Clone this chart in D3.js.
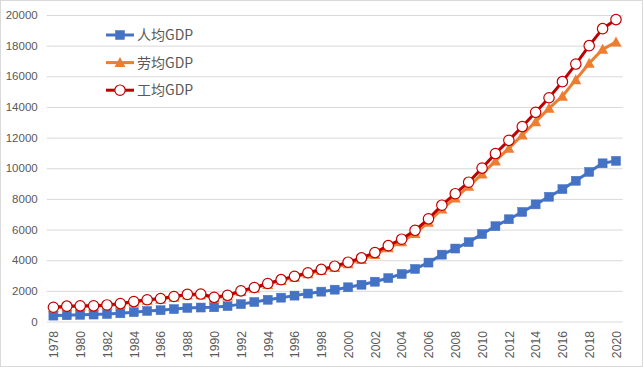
<!DOCTYPE html>
<html>
<head>
<meta charset="utf-8">
<script src="https://cdn.jsdelivr.net/npm/d3@7"></script>
<style>
  body { margin: 0; background: #fff; }
  svg text { font-family: "Liberation Sans", Arial, sans-serif; fill: #595959; }
  .leg text { font-family: "Noto Sans CJK SC", "Liberation Sans", sans-serif; }
</style>
</head>
<body>
<div id="chart"></div>
<script>
// années (axe des catégories)
const annees = d3.range(1978, 2021);

// séries
const renjun = [385, 408, 435, 454, 487, 535, 611, 688, 738, 810, 887, 911, 929, 1004, 1133,
  1272, 1418, 1555, 1689, 1823, 1947, 2077, 2232, 2399, 2596, 2834, 3100, 3431, 3844, 4362,
  4761, 5179, 5704, 6220, 6671, 7148, 7643, 8137, 8637, 9182, 9760, 10322, 10480];
const laojun = [900, 960, 990, 990, 1050, 1140, 1270, 1390, 1460, 1590, 1730, 1750, 1540, 1670,
  1950, 2170, 2420, 2670, 2880, 3110, 3320, 3520, 3770, 4040, 4380, 4810, 5200, 5740, 6480,
  7340, 8060, 8820, 9620, 10480, 11300, 12170, 13040, 13910, 14700, 15780, 16850, 17760, 18240];
const gongjun = [930, 1000, 1020, 1020, 1080, 1170, 1300, 1420, 1500, 1630, 1770, 1790, 1580,
  1710, 2000, 2220, 2480, 2730, 2950, 3180, 3400, 3610, 3870, 4150, 4500, 4950, 5370, 5950,
  6700, 7590, 8340, 9090, 10010, 10960, 11820, 12720, 13650, 14600, 15650, 16800, 18000,
  19110, 19700];

const nomsSeries = ["人均GDP", "劳均GDP", "工均GDP"];
const ticksY = d3.range(0, 20001, 2000);
const ticksX = annees.filter(a => a % 2 === 0);

const largeur = 643, hauteur = 367;
const gauche = 46.7, droite = 622.7, haut = 15, bas = 321.5;

const svg = d3.select("#chart").append("svg")
  .attr("width", largeur).attr("height", hauteur);

// cadre du graphique
svg.append("rect")
  .attr("x", 0.5).attr("y", 0.5)
  .attr("width", largeur - 1).attr("height", hauteur - 1)
  .attr("fill", "#fff").attr("stroke", "#d9d9d9");

const x = d3.scalePoint().domain(annees).range([gauche, droite]).padding(0.5);
const y = d3.scaleLinear().domain([0, 20000]).range([bas, haut]);

// axe Y + grille
const axeY = svg.append("g")
  .attr("transform", `translate(${gauche},0)`)
  .call(d3.axisLeft(y).tickValues(ticksY).tickFormat(d3.format("d"))
    .tickSize(-(droite - gauche)).tickPadding(9));
axeY.select(".domain").remove();
axeY.selectAll(".tick line").attr("stroke", "#d9d9d9").attr("stroke-width", 1);
axeY.selectAll(".tick text").style("font-size", "11.5px").attr("fill", "#595959");

// axe X (étiquettes verticales)
const axeX = svg.append("g")
  .attr("transform", `translate(0,${bas})`)
  .call(d3.axisBottom(x).tickValues(ticksX).tickSize(0));
axeX.select(".domain").remove();
axeX.selectAll(".tick text")
  .style("font-size", "12.2px")
  .attr("fill", "#595959")
  .attr("text-anchor", "end")
  .attr("transform", "rotate(-90)")
  .attr("x", -9.5).attr("y", 0).attr("dy", "0.35em");

const series = [
  { nom: nomsSeries[0], vals: renjun, couleur: "#4472C4", marque: "carre" },
  { nom: nomsSeries[1], vals: laojun, couleur: "#ED7D31", marque: "triangle" },
  { nom: nomsSeries[2], vals: gongjun, couleur: "#C00000", marque: "cercle" }
];

const ligne = d3.line().x((d, i) => x(annees[i])).y(d => y(d));

function dessinerMarque(g, type, couleur) {
  if (type === "carre") {
    g.append("rect").attr("x", -4.5).attr("y", -4.5).attr("width", 9).attr("height", 9)
      .attr("fill", couleur).attr("stroke", couleur).attr("stroke-width", 0.5);
  } else if (type === "triangle") {
    g.append("path").attr("d", "M0,-5.5L5.5,4.5L-5.5,4.5Z").attr("fill", couleur);
  } else {
    g.append("circle").attr("r", 5.2).attr("fill", "#fff")
      .attr("stroke", couleur).attr("stroke-width", 1.2);
  }
}

series.forEach(s => {
  svg.append("path")
    .datum(s.vals)
    .attr("d", ligne)
    .attr("fill", "none")
    .attr("stroke", s.couleur)
    .attr("stroke-width", 3)
    .attr("stroke-linejoin", "round");

  svg.append("g").selectAll("g")
    .data(s.vals)
    .enter().append("g")
    .attr("transform", (d, i) => `translate(${x(annees[i])},${y(d)})`)
    .each(function () { dessinerMarque(d3.select(this), s.marque, s.couleur); });
});

// légende
const leg = svg.append("g").attr("class", "leg");
series.forEach((s, i) => {
  const g = leg.append("g").attr("transform", `translate(106,${35 + i * 27.6})`);
  g.append("line").attr("x1", 0).attr("x2", 28).attr("y1", 0).attr("y2", 0)
    .attr("stroke", s.couleur).attr("stroke-width", 3);
  const m = g.append("g").attr("transform", "translate(14,0)");
  dessinerMarque(m, s.marque, s.couleur);
  g.append("text").attr("x", 31).attr("y", 0).attr("dy", "0.35em")
    .style("font-size", "14px").text(s.nom);
});
</script>
</body>
</html>
